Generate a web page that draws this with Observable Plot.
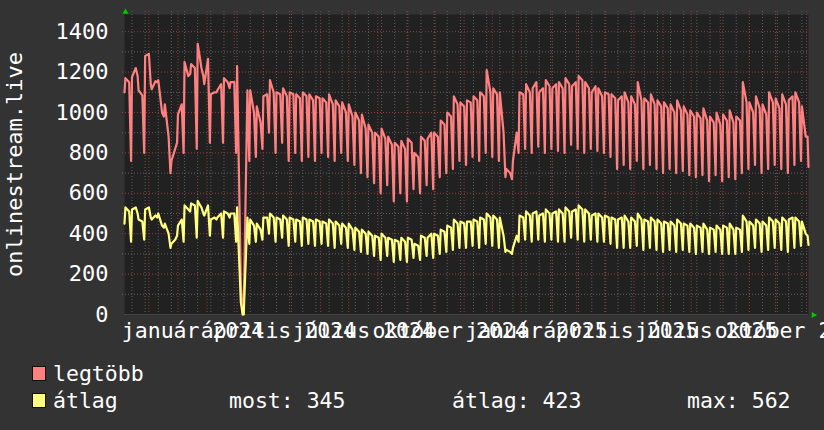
<!DOCTYPE html>
<html><head><meta charset="utf-8">
<script src="https://cdn.jsdelivr.net/npm/d3@7"></script>
<script src="https://cdn.jsdelivr.net/npm/@observablehq/plot@0.6"></script>
<style>
html,body{margin:0;padding:0;background:#333;}
#wrap{position:relative;width:824px;height:430px;background:#333;overflow:hidden;}
#wrap svg{display:block;}
#wrap svg text{font-family:"DejaVu Sans Mono",monospace !important;}
</style></head><body><div id="wrap"></div>
<script>
// ---- data (weekly triplets: [dip, high, high] at day 0, 1, 5 of each week from 2023-11-05) ----
const startDate = "2023-11-05";
const endDate = "2025-11-03";
const dayOffsets = [0, 1, 5];
const legtobb = [
[1100,1170,1150],[760,1175,1220],[1180,1110,1085],[800,1280,1290],[1140,1115,1155],
[1150,1160,1000],[980,1040,880],[700,760,820],[850,990,1040],[800,1250,1180],
[1190,1240,1220],[820,1340,1220],[1180,1140,1265],[850,1090,1100],[1100,1110,1140],
[850,1170,1150],[1120,1150,1150],[800,1230,150],[0,0,1110],[760,1110,1000],
[780,1030,950],[820,1080,1090],[900,1160,1100],[800,1100,1090],[850,1120,1080],
[760,1100,1090],[800,1090,1070],[760,1100,1080],[780,1090,1060],[760,1080,1070],
[800,1070,1050],[780,1090,1040],[760,1060,1030],[800,1050,1000],[760,1040,980],
[740,1000,960],[700,990,920],[680,940,900],[650,900,880],[600,920,870],
[640,880,840],[560,850,830],[600,860,820],[560,870,850],[620,800,780],
[600,880,860],[640,870,900],[620,900,880],[680,960,940],[700,1000,980],
[720,1080,1040],[760,1050,1030],[740,1060,1050],[780,1080,1060],[760,1100,1080],
[800,1210,1100],[780,1120,1090],[760,1100,900],[680,720,700],[670,760,900],
[800,1100,1090],[820,1140,1100],[800,1120,1150],[830,1100,1120],[800,1160,1130],
[820,1120,1140],[810,1150,1120],[800,1170,1140],[840,1130,1150],[820,1180,1160],
[800,1150,1120],[820,1100,1130],[810,1120,1080],[800,1100,1090],[780,1090,1070],
[720,1060,1080],[740,1100,1050],[720,1080,1040],[760,1150,1060],[720,1070,1050],
[740,1090,1040],[720,1060,1030],[700,1050,1020],[720,1040,1000],[700,1060,1010],
[710,1030,990],[690,1010,980],[680,1000,970],[690,1020,960],[660,980,950],
[690,1000,940],[660,990,960],[680,1010,950],[670,980,960],[700,1150,1050],
[720,1050,1000],[740,1080,1020],[700,1040,990],[720,1100,1050],[740,1070,1020],
[720,1090,1040],[700,1060,1080],[740,1100,1050],[760,1030,880],[880,730]
];
const atlag = [
[450,530,510],[360,520,530],[500,470,460],[370,520,530],[480,470,490],
[480,500,440],[430,450,400],[330,350,370],[390,440,470],[360,540,520],
[510,550,540],[380,562,530],[500,490,540],[390,470,480],[470,480,500],
[380,510,500],[480,500,500],[360,530,60],[0,0,480],[350,470,440],
[360,450,420],[370,480,480],[400,500,480],[360,480,470],[380,490,470],
[340,480,470],[360,470,460],[340,480,470],[350,470,460],[340,470,460],
[350,460,450],[340,470,450],[330,460,440],[350,450,430],[330,450,420],
[320,430,410],[310,420,400],[300,410,390],[290,390,380],[270,400,380],
[290,380,370],[260,370,360],[270,380,360],[260,380,370],[280,350,340],
[270,390,380],[290,380,400],[280,400,390],[300,420,410],[310,440,430],
[320,470,450],[330,460,450],[330,460,460],[340,470,460],[330,480,470],
[350,500,480],[340,490,470],[330,480,390],[310,320,310],[300,330,390],
[360,490,480],[370,510,490],[360,500,510],[370,490,500],[360,520,500],
[370,500,510],[360,520,500],[360,530,510],[380,510,520],[370,540,520],
[360,520,500],[370,490,500],[360,500,480],[360,490,480],[350,480,470],
[330,470,480],[330,490,460],[330,480,460],[340,500,470],[320,470,460],
[330,480,460],[320,470,450],[310,460,450],[320,460,440],[310,470,450],
[320,450,440],[310,450,430],[300,440,430],[310,450,420],[300,430,420],
[310,440,420],[300,440,430],[300,450,420],[300,430,420],[310,490,460],
[320,460,440],[330,470,450],[310,460,440],[320,480,460],[330,470,450],
[320,480,460],[310,470,480],[330,480,460],[340,460,400],[390,345]
];
const seriesNames = ["legtöbb", "átlag"];
const seriesColors = ["#ff8080", "#ffff80"];
const statTexts = ["most: 345", "átlag: 423", "max: 562"];
const yLabel = "onlinestream.live";
const yTicks = [0, 200, 400, 600, 800, 1000, 1200, 1400];
const yMinor = [100, 300, 500, 700, 900, 1100, 1300];
const quarterDates = ["2024-01-01","2024-04-01","2024-07-01","2024-10-01","2025-01-01","2025-04-01","2025-07-01","2025-10-01"];
const quarterLabels = ["január 2024","április 2024","július 2024","október 2024","január 2025","április 2025","július 2025","október 2025"];
const minorGridStart = "2023-11-13";

// ---- build rows ----
const t0 = new Date(startDate), t1 = new Date(endDate);
function rowsOf(weeks) {
  const out = [];
  weeks.forEach((w, k) => w.forEach((v, j) => out.push({date: d3.utcDay.offset(t0, 7 * k + dayOffsets[j]), value: v})));
  return out;
}
const maxRows = rowsOf(legtobb), avgRows = rowsOf(atlag);
const qDates = quarterDates.map(s => new Date(s));
const qMap = new Map(qDates.map((d, i) => [+d, quarterLabels[i]]));
const minorX = d3.utcDay.range(new Date(minorGridStart), t1, 14);
const majorX = d3.utcMonth.range(t0, t1);
const font = "DejaVu Sans Mono";

const chart = Plot.plot({
  width: 824, height: 345,
  marginLeft: 124, marginRight: 16, marginTop: 14, marginBottom: 31,
  style: {background: "#333", color: "#fff", fontFamily: font, fontSize: "22px"},
  x: {type: "utc", domain: [t0, t1]},
  y: {domain: [0, 1485]},
  marks: [
    Plot.frame({fill: "#212121", stroke: null}),
    Plot.ruleY(yMinor, {stroke: "#606060", strokeDasharray: "1,2", insetLeft: -2}),
    Plot.ruleX(minorX, {stroke: "#606060", strokeDasharray: "1,2", insetTop: -3, insetBottom: -3}),
    Plot.ruleY(yTicks.filter(d => d > 0), {stroke: "#953c3c", strokeDasharray: "1,2", insetLeft: -2}),
    Plot.ruleX(majorX, {stroke: "#953c3c", strokeDasharray: "1,2", insetTop: -3, insetBottom: -3}),
    Plot.ruleY([0], {stroke: "#444"}),
    Plot.line(maxRows, {x: "date", y: "value", stroke: seriesColors[0], strokeWidth: 2.2}),
    Plot.line(avgRows, {x: "date", y: "value", stroke: seriesColors[1], strokeWidth: 2.2}),
    Plot.axisY(yTicks, {tickSize: 0, tickPadding: 16, fontSize: 22, fontFamily: font, tickFormat: d => String(d),
      label: yLabel, labelAnchor: "center", labelArrow: "none", labelOffset: 118}),
    Plot.axisX(qDates, {tickSize: 0, tickPadding: 8, tickFormat: d => qMap.get(+d), dx: 15, label: null, fontSize: 21.5, fontFamily: font}),
    Plot.dot([0], {frameAnchor: "top-left", symbol: "triangle", r: 2.3, fill: "#00c800", stroke: null, dx: 1, dy: -2.5}),
    Plot.dot([0], {frameAnchor: "bottom-right", symbol: "triangle", r: 2.3, fill: "#00c800", stroke: null, rotate: 90, dx: 5, dy: 0.5})
  ]
});
const wrap = document.getElementById("wrap");
wrap.appendChild(chart);
d3.select(chart).selectAll("text").style("font-family", font);

// ---- legend below the chart ----
const leg = d3.select(wrap).append("svg").attr("width", 824).attr("height", 85)
  .style("font-family", font).style("font-size", "21.5px");
seriesNames.forEach((name, i) => {
  const yTop = 21.5 + i * 27;
  leg.append("rect").attr("x", 32.5).attr("y", yTop).attr("width", 13).attr("height", 14)
    .attr("fill", seriesColors[i]).attr("stroke", "#111").attr("stroke-width", 1);
  leg.append("text").attr("x", 53).attr("y", yTop + 14.5).attr("fill", "#fff").text(name);
});
const statX = [229, 452, 687];
statTexts.forEach((s, i) => leg.append("text").attr("x", statX[i]).attr("y", 63).attr("fill", "#fff").text(s));
</script></body></html>
